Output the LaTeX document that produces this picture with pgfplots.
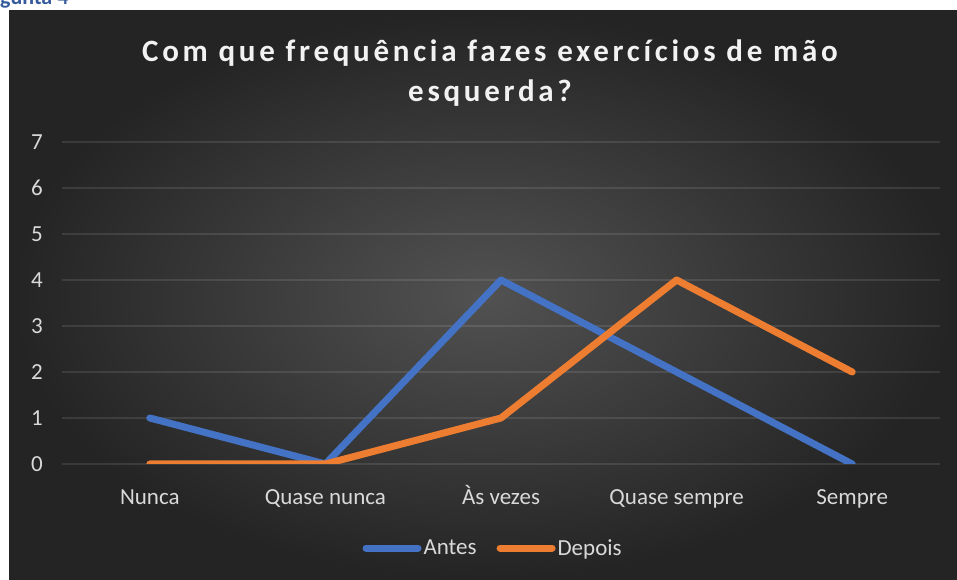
\documentclass[border=0pt]{standalone}
\usepackage{fontspec}
\setmainfont{Carlito}
\newfontfamily\titlefont[LetterSpace=12]{Carlito}
\usepackage{pgfplots}
\pgfplotsset{compat=1.18}
\definecolor{antes}{HTML}{4472C4}
\definecolor{depois}{HTML}{ED7D31}
\definecolor{tickc}{HTML}{D9D9D9}
\definecolor{titlec}{HTML}{F2F2F2}
\begin{document}
\begin{tikzpicture}
\useasboundingbox (0pt,0pt) rectangle (957pt,580pt);
\fill[white] (0pt,0pt) rectangle (957pt,580pt);
\begin{scope}
\clip (0pt,569pt) rectangle (200pt,580pt);
\node[anchor=base west, inner sep=0pt, text=antes!80!black, font=\fontsize{22}{26}\selectfont\bfseries] at (-30pt,575pt) {Pergunta 4};
\end{scope}
\shade[inner color=black!68, outer color=black!86] (9pt,0pt) rectangle (957pt,569pt);
\node[text=titlec, font=\fontsize{31}{36}\selectfont\titlefont\bfseries] at (490pt,527pt) {Com que frequência fazes exercícios de mão};
\node[text=titlec, font=\fontsize{31}{36}\selectfont\titlefont\bfseries] at (490pt,487pt) {esquerda?};
\begin{axis}[
  at={(62pt,116pt)}, anchor=south west,
  scale only axis, width=878pt, height=322pt,
  xmin=-0.5, xmax=4.5, ymin=0, ymax=7,
  axis line style={draw=none},
  xtick={0,1,2,3,4},
  xticklabels={Nunca,Quase nunca,Às vezes,Quase sempre,Sempre},
  ytick={0,1,...,7},
  major tick length=0pt,
  ymajorgrids, grid style={white, opacity=0.1, line width=1.2pt},
  tick label style={text=tickc, font=\fontsize{23}{27}\selectfont},
  xticklabel style={anchor=base, inner sep=0pt, yshift=-40pt},
  yticklabel style={anchor=east, inner sep=0pt, xshift=-19pt},
  /pgf/number format/assume math mode=true,
  legend columns=2,
  legend style={at={(0.491,-0.261)}, anchor=center, draw=none, fill=none,
    text=tickc, font=\fontsize{23}{27}\selectfont,
    /tikz/every even column/.append style={column sep=18pt}},
  legend image code/.code={\draw[#1, line cap=round] (0pt,0pt) -- (52pt,0pt);},
]
\addplot[antes, line width=7pt, line cap=round, line join=round] coordinates {(0,1) (1,0) (2,4) (3,2) (4,0)};
\addplot[depois, line width=7pt, line cap=round, line join=round] coordinates {(0,0) (1,0) (2,1) (3,4) (4,2)};
\legend{Antes, Depois}
\end{axis}
\end{tikzpicture}
\end{document}
